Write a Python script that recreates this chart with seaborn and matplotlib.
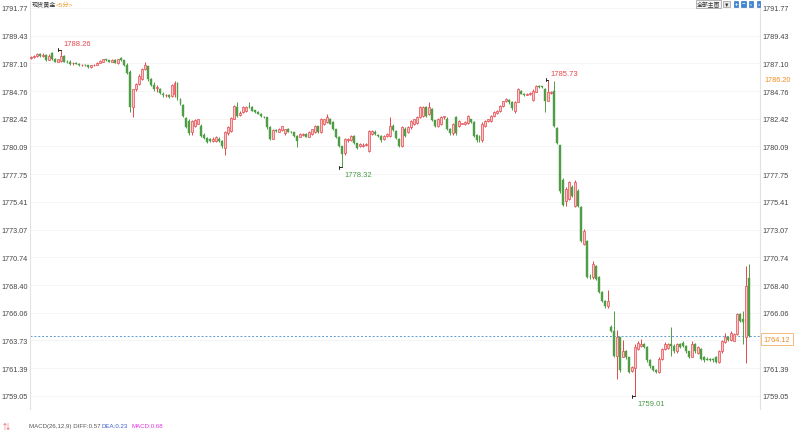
import numpy as np
import matplotlib
matplotlib.use("Agg")
import matplotlib.pyplot as plt
import seaborn as sns

opens = [1787.55, 1787.62, 1787.72, 1787.85, 1787.68, 1787.80, 1787.40, 1787.95, 1787.45, 1787.25,
         1787.30, 1787.70, 1787.25, 1787.25, 1787.10, 1787.12, 1787.08, 1786.95, 1787.00, 1786.97,
         1786.80, 1786.95, 1787.00, 1787.15, 1787.25, 1787.45, 1787.35, 1787.25, 1787.40, 1787.15,
         1787.55, 1787.35, 1786.95, 1786.35, 1783.45, 1784.90, 1785.35, 1785.80, 1786.60, 1786.85,
         1785.80, 1785.30, 1785.00, 1784.90, 1784.55, 1784.40, 1784.45, 1784.35, 1784.50, 1785.45,
         1784.10, 1783.60, 1782.50, 1782.25, 1781.30, 1781.80, 1782.00, 1781.80, 1781.10, 1780.80,
         1780.70, 1780.55, 1780.55, 1780.75, 1780.55, 1780.00, 1781.20, 1781.40, 1782.45, 1783.45,
         1782.75, 1783.00, 1783.10, 1783.45, 1783.40, 1783.15, 1783.00, 1782.85, 1782.60, 1782.55,
         1781.75, 1780.75, 1781.45, 1781.35, 1781.45, 1781.20, 1781.60, 1781.35, 1781.30, 1781.00,
         1780.90, 1781.10, 1781.15, 1780.90, 1781.15, 1781.30, 1781.80, 1781.30, 1781.95, 1782.15,
         1782.40, 1782.15, 1781.55, 1780.90, 1780.10, 1779.50, 1780.60, 1780.60, 1780.95, 1780.35,
         1780.10, 1780.15, 1780.20, 1779.75, 1781.15, 1781.35, 1781.10, 1780.95, 1780.70, 1780.95,
         1781.00, 1781.85, 1781.40, 1780.75, 1780.15, 1781.60, 1781.30, 1781.70, 1781.95, 1782.10,
         1782.60, 1782.70, 1783.40, 1782.80, 1783.25, 1782.30, 1781.80, 1781.95, 1782.55, 1782.45,
         1781.60, 1781.20, 1782.60, 1781.80, 1782.00, 1781.95, 1782.05, 1782.40, 1782.15, 1781.10,
         1781.00, 1780.60, 1781.80, 1782.20, 1782.20, 1782.65, 1782.90, 1783.05, 1783.50, 1783.90,
         1784.00, 1783.85, 1783.10, 1783.85, 1784.80, 1784.55, 1784.45, 1784.50, 1784.00, 1784.70,
         1785.20, 1785.15, 1784.95, 1783.95, 1784.60, 1784.75, 1781.65, 1780.20, 1777.30, 1775.50,
         1775.70, 1776.70, 1775.10, 1776.35, 1775.00, 1771.90, 1772.15, 1769.10, 1769.05, 1770.00,
         1769.10, 1767.85, 1767.10, 1766.60, 1764.90, 1764.55, 1762.40, 1764.00, 1762.35, 1762.85,
         1762.30, 1761.15, 1761.40, 1763.00, 1763.30, 1763.40, 1763.20, 1762.05, 1761.55, 1761.25,
         1761.05, 1762.20, 1763.00, 1763.10, 1763.45, 1763.30, 1762.80, 1763.40, 1763.55, 1763.25,
         1762.80, 1762.35, 1763.45, 1762.65, 1763.05, 1762.30, 1762.20, 1762.15, 1762.20, 1762.35,
         1761.95, 1762.80, 1763.60, 1764.05, 1763.75, 1763.70, 1764.30, 1766.00, 1765.50, 1764.00, 1769.00]

highs = [1787.70, 1787.80, 1787.95, 1787.95, 1787.98, 1787.85, 1787.85, 1788.10, 1787.55, 1787.50,
         1788.26, 1787.80, 1787.35, 1787.40, 1787.20, 1787.20, 1787.15, 1787.05, 1787.05, 1787.00,
         1787.00, 1787.05, 1787.20, 1787.35, 1787.50, 1787.50, 1787.40, 1787.45, 1787.45, 1787.50,
         1787.60, 1787.40, 1787.10, 1786.50, 1784.95, 1785.45, 1786.20, 1786.70, 1787.20, 1786.90,
         1785.90, 1785.50, 1785.30, 1785.00, 1784.65, 1784.55, 1784.50, 1785.40, 1785.60, 1785.55,
         1784.15, 1783.70, 1782.60, 1782.40, 1782.30, 1782.45, 1782.45, 1781.95, 1781.20, 1780.90,
         1780.80, 1780.90, 1780.95, 1780.85, 1780.60, 1781.40, 1781.85, 1782.60, 1783.60, 1783.80,
         1783.05, 1783.50, 1783.50, 1783.85, 1783.50, 1783.20, 1783.05, 1782.90, 1782.65, 1782.60,
         1781.80, 1781.60, 1781.55, 1781.65, 1781.85, 1781.60, 1781.65, 1781.40, 1781.35, 1781.05,
         1781.20, 1781.20, 1781.20, 1781.40, 1781.60, 1781.90, 1781.85, 1782.50, 1782.45, 1782.85,
         1782.50, 1782.20, 1781.60, 1780.95, 1780.15, 1780.80, 1780.80, 1781.10, 1781.05, 1780.40,
         1780.40, 1780.35, 1780.35, 1781.50, 1781.45, 1781.45, 1781.15, 1781.05, 1781.05, 1781.20,
         1782.60, 1781.95, 1781.50, 1780.80, 1781.80, 1781.70, 1781.80, 1782.30, 1782.45, 1782.65,
         1783.50, 1783.50, 1783.50, 1783.85, 1783.35, 1782.35, 1782.50, 1782.70, 1782.70, 1782.55,
         1781.65, 1782.05, 1782.70, 1782.35, 1782.10, 1782.20, 1782.75, 1782.45, 1782.20, 1781.15,
         1781.10, 1782.15, 1782.30, 1782.45, 1782.75, 1783.05, 1783.15, 1783.55, 1783.95, 1784.15,
         1784.10, 1783.90, 1783.90, 1785.00, 1784.85, 1784.60, 1784.60, 1784.65, 1784.90, 1785.30,
         1785.25, 1785.20, 1785.00, 1785.73, 1784.75, 1785.60, 1781.70, 1780.25, 1777.40, 1776.70,
         1777.20, 1776.80, 1777.30, 1776.50, 1775.10, 1773.10, 1772.20, 1769.30, 1770.45, 1770.10,
         1769.15, 1767.90, 1767.15, 1768.00, 1765.00, 1766.20, 1764.60, 1764.05, 1763.80, 1762.90,
         1762.35, 1761.60, 1763.45, 1763.70, 1763.85, 1763.50, 1763.30, 1762.20, 1761.60, 1761.30,
         1762.30, 1763.10, 1763.60, 1763.50, 1764.90, 1763.40, 1763.50, 1763.50, 1763.70, 1763.35,
         1762.85, 1763.70, 1763.50, 1763.30, 1763.10, 1762.40, 1762.30, 1762.25, 1762.25, 1762.45,
         1762.90, 1763.75, 1764.40, 1764.10, 1764.50, 1764.40, 1766.05, 1766.05, 1766.20, 1770.00, 1770.20]

lows = [1787.45, 1787.55, 1787.60, 1787.65, 1787.60, 1787.30, 1787.35, 1787.40, 1787.20, 1787.20,
        1787.25, 1787.20, 1787.15, 1787.00, 1787.00, 1787.05, 1786.90, 1786.90, 1786.90, 1786.75,
        1786.75, 1786.90, 1786.95, 1787.10, 1787.20, 1787.30, 1787.20, 1787.20, 1787.10, 1787.05,
        1787.30, 1786.90, 1786.20, 1783.00, 1782.55, 1784.80, 1785.25, 1785.70, 1786.50, 1785.65,
        1785.15, 1784.80, 1784.70, 1784.50, 1784.30, 1784.30, 1784.20, 1784.25, 1784.30, 1784.05,
        1783.60, 1782.60, 1781.65, 1781.10, 1781.10, 1781.70, 1781.95, 1780.85, 1780.70, 1780.40,
        1780.45, 1780.45, 1780.45, 1780.45, 1780.00, 1779.40, 1781.10, 1781.30, 1782.40, 1782.60,
        1782.70, 1782.95, 1783.00, 1783.35, 1783.05, 1782.95, 1782.80, 1782.60, 1782.50, 1781.60,
        1780.60, 1780.70, 1781.30, 1781.30, 1781.40, 1781.10, 1781.30, 1781.25, 1780.90, 1780.05,
        1780.85, 1781.00, 1780.85, 1780.85, 1781.10, 1781.25, 1781.25, 1781.20, 1781.90, 1782.10,
        1781.95, 1781.50, 1780.80, 1780.05, 1778.32, 1779.40, 1780.50, 1780.55, 1780.30, 1779.85,
        1780.05, 1780.05, 1780.10, 1779.60, 1781.10, 1781.10, 1780.85, 1780.50, 1780.65, 1780.90,
        1780.90, 1781.40, 1780.70, 1780.05, 1780.05, 1780.90, 1781.20, 1781.60, 1781.90, 1782.00,
        1782.50, 1782.60, 1782.60, 1782.75, 1782.20, 1781.70, 1781.70, 1781.90, 1782.45, 1781.50,
        1781.10, 1781.10, 1781.10, 1781.75, 1781.95, 1781.90, 1782.00, 1782.10, 1780.90, 1780.50,
        1780.50, 1780.50, 1781.75, 1782.15, 1782.15, 1782.60, 1782.85, 1783.00, 1783.45, 1783.85,
        1783.70, 1783.20, 1782.90, 1783.80, 1784.50, 1784.35, 1784.40, 1784.45, 1783.90, 1784.65,
        1785.05, 1785.05, 1783.00, 1783.90, 1784.50, 1781.70, 1780.30, 1776.20, 1775.05, 1775.05,
        1775.60, 1775.85, 1775.00, 1775.00, 1772.00, 1771.80, 1769.00, 1768.95, 1768.95, 1768.80,
        1767.75, 1767.00, 1766.50, 1766.50, 1764.45, 1762.35, 1760.50, 1761.10, 1762.30, 1762.20,
        1760.95, 1761.10, 1759.01, 1762.90, 1763.20, 1763.10, 1761.95, 1761.45, 1761.15, 1760.95,
        1760.95, 1762.10, 1762.95, 1763.00, 1762.40, 1762.70, 1762.70, 1763.10, 1763.15, 1762.70,
        1762.25, 1762.30, 1762.70, 1762.60, 1762.10, 1761.95, 1762.05, 1762.00, 1761.95, 1761.85,
        1761.85, 1762.70, 1763.55, 1763.65, 1763.70, 1763.65, 1764.20, 1765.25, 1763.40, 1761.80, 1764.05]

closes = [1787.60, 1787.72, 1787.85, 1787.70, 1787.80, 1787.40, 1787.70, 1787.45, 1787.25, 1787.45,
          1787.75, 1787.25, 1787.20, 1787.05, 1787.15, 1787.08, 1786.95, 1787.00, 1786.95, 1786.80,
          1786.95, 1787.00, 1787.15, 1787.30, 1787.45, 1787.35, 1787.25, 1787.40, 1787.15, 1787.45,
          1787.35, 1786.95, 1786.25, 1783.45, 1784.90, 1785.35, 1786.05, 1786.60, 1787.00, 1785.80,
          1785.25, 1784.90, 1785.10, 1784.60, 1784.40, 1784.45, 1784.30, 1785.30, 1785.45, 1784.15,
          1783.70, 1782.70, 1781.75, 1781.20, 1782.20, 1782.35, 1782.40, 1780.95, 1780.80, 1780.50,
          1780.55, 1780.75, 1780.90, 1780.55, 1780.10, 1781.30, 1781.75, 1782.50, 1783.50, 1782.70,
          1782.95, 1783.40, 1783.45, 1783.40, 1783.10, 1783.00, 1782.85, 1782.65, 1782.55, 1781.70,
          1780.70, 1781.50, 1781.40, 1781.60, 1781.80, 1781.55, 1781.35, 1781.30, 1781.00, 1780.55,
          1781.15, 1781.15, 1780.90, 1781.30, 1781.55, 1781.80, 1781.30, 1782.40, 1782.40, 1782.55,
          1782.00, 1781.60, 1780.90, 1780.15, 1779.45, 1780.70, 1780.70, 1781.00, 1780.40, 1779.95,
          1780.30, 1780.25, 1780.30, 1781.40, 1781.40, 1781.15, 1780.95, 1780.65, 1780.95, 1781.15,
          1781.85, 1781.50, 1780.80, 1780.15, 1781.70, 1781.00, 1781.70, 1782.20, 1782.40, 1782.55,
          1783.40, 1783.40, 1782.70, 1783.40, 1782.30, 1781.80, 1782.40, 1782.60, 1782.65, 1781.60,
          1781.20, 1781.95, 1781.20, 1782.25, 1782.05, 1782.15, 1782.65, 1782.15, 1781.00, 1780.60,
          1780.60, 1782.00, 1782.20, 1782.40, 1782.65, 1783.00, 1783.10, 1783.50, 1783.90, 1784.10,
          1783.80, 1783.30, 1783.85, 1784.90, 1784.55, 1784.40, 1784.55, 1784.60, 1784.80, 1785.20,
          1785.10, 1785.10, 1783.95, 1784.70, 1784.70, 1781.80, 1780.40, 1776.30, 1775.15, 1776.50,
          1777.10, 1775.95, 1777.10, 1775.10, 1772.10, 1772.95, 1769.10, 1769.05, 1770.20, 1768.90,
          1767.85, 1767.10, 1766.60, 1767.05, 1764.55, 1762.45, 1764.00, 1761.20, 1762.85, 1762.30,
          1761.10, 1761.50, 1763.20, 1763.55, 1763.45, 1763.20, 1762.05, 1761.55, 1761.25, 1761.05,
          1762.20, 1763.00, 1763.45, 1763.40, 1763.30, 1762.80, 1763.40, 1763.20, 1763.25, 1762.80,
          1762.35, 1763.45, 1762.80, 1763.20, 1762.20, 1762.05, 1762.10, 1762.05, 1762.05, 1761.95,
          1762.80, 1763.65, 1764.05, 1763.75, 1764.40, 1764.30, 1766.00, 1765.35, 1765.30, 1768.30, 1764.12]

tick_values = [1791.77, 1789.43, 1787.10, 1784.76, 1782.42, 1780.09, 1777.75, 1775.41,
               1773.07, 1770.74, 1768.40, 1766.06, 1763.73, 1761.39, 1759.05]
title_main = "现货黄金"
title_period = "<5分>"
last_price = 1764.12
ref_price_label = "1786.20"
ref_price_level = 1785.75
macd_parts = [("MACD(26,12,9) DIFF:0.57", "#555555"), ("DEA:0.23", "#3a5fd0"), ("MACD:0.68", "#e030e0")]

sns.set_theme(style="white")
plt.rcParams["font.family"] = ["Liberation Sans", "Noto Sans CJK SC", "DejaVu Sans"]

RED = "#e5484d"
PINK = "#f8c9ca"
GREEN = "#4f9e45"
GREEN_TXT = "#4a9a48"

o = np.array(opens); h = np.array(highs); l = np.array(lows); c = np.array(closes)
n = len(c)
idx = np.arange(n)
up = c >= o

W, H = 800, 431
fig = plt.figure(figsize=(W / 100, H / 100), dpi=100)
ax = fig.add_axes([30 / W, 1 - 410 / H, 730 / W, 408 / H])

# wicks
ax.vlines(idx[up], l[up], h[up], color=RED, lw=0.7, zorder=2)
ax.vlines(idx[~up], l[~up], h[~up], color=GREEN, lw=0.7, zorder=2)
# bodies
body_lo = np.minimum(o, c)
body_h = np.maximum(np.abs(c - o), 0.04)
ax.bar(idx[up], body_h[up], bottom=body_lo[up], width=0.66, color=PINK,
       edgecolor=RED, linewidth=0.5, zorder=3)
ax.bar(idx[~up], body_h[~up], bottom=body_lo[~up], width=0.66, color=GREEN,
       edgecolor=GREEN, linewidth=0.3, zorder=3)

ax.set_xlim(-0.33, (760 - 31) / 2.99)
ax.set_ylim(1757.95, 1792.36)
ax.set_yticks(tick_values)
ax.set_yticklabels([f"{v:.2f}" for v in tick_values])
ax.set_xticks([])
ax.tick_params(axis="y", which="both", length=0, labelsize=5.2, labelcolor="#444444",
               labelleft=True, labelright=True, pad=1.8)
# the last-price box covers the right-hand label nearest to it
for tk, v in zip(ax.yaxis.get_major_ticks(), tick_values):
    if abs(v - last_price) < 0.6:
        tk.label2.set_visible(False)
ax.grid(axis="y", color="#f4f4f4", lw=0.6)
for s in ["top", "bottom"]:
    ax.spines[s].set_visible(False)
for s in ["left", "right"]:
    ax.spines[s].set_color("#e2e2e2")
    ax.spines[s].set_linewidth(0.8)

# last price line
ax.axhline(last_price, color="#5b9bd5", lw=0.7, ls=(0, (2, 2)), zorder=1)
ax.annotate(f"{last_price:.2f}", xy=(1.0, last_price), xycoords=("axes fraction", "data"),
            xytext=(2.5, -2.5), textcoords="offset points", va="center", ha="left",
            fontsize=5.2, color="#f08c1e",
            bbox=dict(boxstyle="square,pad=0.35", fc="white", ec="#f5b06a", lw=0.6),
            annotation_clip=False, zorder=10)
ax.annotate(ref_price_label, xy=(1.0, ref_price_level), xycoords=("axes fraction", "data"),
            xytext=(3.5, 0), textcoords="offset points", va="center", ha="left",
            fontsize=5.2, color="#f08c1e",
            bbox=dict(boxstyle="square,pad=0.25", fc="white", ec="none"),
            annotation_clip=False, zorder=6)

# extreme markers
def mark(i, val, color, above):
    ax.plot([i - 0.9, i], [val, val], color="#222222", lw=0.7, zorder=5)
    ax.plot([i - 0.9, i - 0.9], [val - 0.1, val + 0.1], color="#222222", lw=0.7, zorder=5)
    ax.annotate(f"{val:.2f}", xy=(i, val), xytext=(1.5, 2 if above else -2.5),
                textcoords="offset points", ha="left", va="bottom" if above else "top",
                fontsize=5.5, color=color, zorder=6)

i_hi1 = int(np.argmax(h[:60]))
mark(i_hi1, h[i_hi1], RED, True)
i_hi2 = 150 + int(np.argmax(h[150:200]))
mark(i_hi2, h[i_hi2], RED, True)
i_lo1 = 80 + int(np.argmin(l[80:140]))
mark(i_lo1, l[i_lo1], GREEN_TXT, False)
i_lo2 = 180 + int(np.argmin(l[180:]))
mark(i_lo2, l[i_lo2], GREEN_TXT, False)

# title
fig.text(32 / W, 1 - 5 / H, title_main, fontsize=4.4, color="#333333", va="center", ha="left")
fig.text(56 / W, 1 - 5 / H, title_period, fontsize=4.6, color="#f0a030", va="center", ha="left")

# top-right buttons
fig.text(697 / W, 1 - 5 / H, "全部主图", fontsize=4.2, color="#333333", va="center", ha="left",
         bbox=dict(boxstyle="square,pad=0.15", fc="#f4f4f4", ec="#999999", lw=0.5))
fig.text(724 / W, 1 - 5 / H, "▼", fontsize=4, color="#333333", va="center", ha="left",
         bbox=dict(boxstyle="square,pad=0.15", fc="#e8e8e8", ec="#999999", lw=0.5))
for k, sym in enumerate(["+", "−", "‹", "›"]):
    fig.text((736 + k * 7.5) / W, 1 - 5 / H, sym, fontsize=4.2, color="white", va="center", ha="center",
             fontweight="bold",
             bbox=dict(boxstyle="square,pad=0.12", fc="#3a86d8", ec="#2a66b8", lw=0.4))

# MACD legend line
for (txt, col), xp in zip(macd_parts, [29, 102, 132]):
    fig.text(xp / W, 1 - 427 / H, txt, fontsize=4.4, color=col, va="center", ha="left")
fig.text(3 / W, 1 - 427 / H, "⇅", fontsize=5, color="#e05050", va="center", ha="left")

fig.savefig("out.png", dpi=100)
